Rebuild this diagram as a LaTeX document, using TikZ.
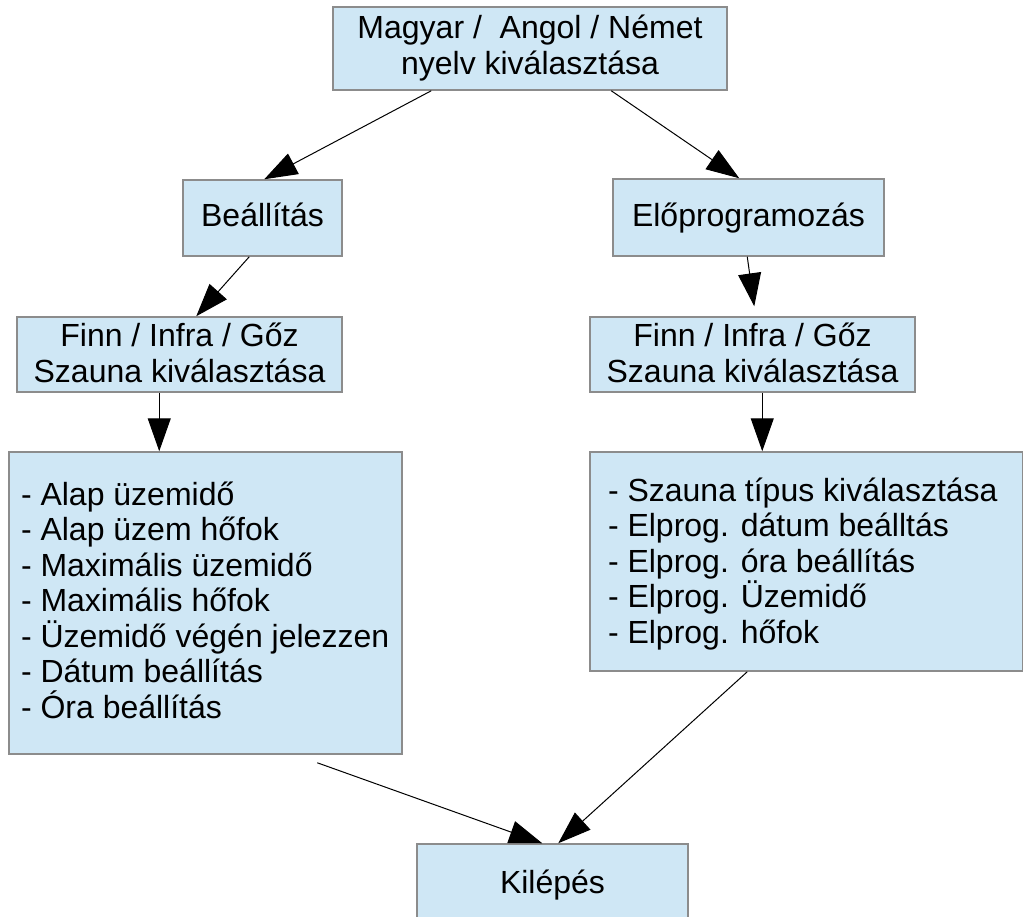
\documentclass[tikz,border=0pt]{standalone}
\usepackage{fontspec}
\setmainfont{Liberation Sans}
\usetikzlibrary{arrows.meta}

\definecolor{boxfill}{HTML}{CFE7F5}
\definecolor{boxline}{HTML}{8C8C8C}

% stacked text rows with a fixed line pitch
\newcommand\stackbox[2]{\vbox{\hsize=#1\baselineskip=35.5pt\lineskiplimit=-100pt\lineskip=0pt #2}}
\newcommand\midrow[1]{\hbox to \hsize{\hss#1\hss}}
\newcommand\leftrow[1]{\hbox to \hsize{#1\hss}}

\tikzset{
  box/.style={draw=boxline, fill=boxfill, line width=1.5pt, inner sep=0pt,
    font=\fontsize{32}{35.5}\selectfont, text=black, text depth=0pt},
  arr/.style={draw=black, line width=1pt, -{Triangle[length=33pt,width=23pt]}}
}

\begin{document}
\begin{tikzpicture}[x=1pt, y=-1pt]
\useasboundingbox (0,0) rectangle (1024,916);
\clip (0,0) rectangle (1024,916);

\node[box, minimum width=394pt, minimum height=83pt, text height=51pt] (top) at (530,48.5)
  {\stackbox{0pt}{\midrow{Magyar /\ \ Angol / Német}\midrow{nyelv kiválasztása}}};

\node[box, minimum width=159pt, minimum height=76pt, text height=17.3pt] (bea) at (262.5,218)
  {\stackbox{0pt}{\midrow{Beállítás}}};
\node[box, minimum width=271pt, minimum height=77pt, text height=18.4pt] (elo) at (748.5,217.5)
  {\stackbox{0pt}{\midrow{Előprogramozás}}};

\node[box, minimum width=325pt, minimum height=75pt, text height=55pt] (finnL) at (179.5,354.5)
  {\stackbox{0pt}{\midrow{Finn / Infra / Gőz}\midrow{Szauna kiválasztása}}};
\node[box, minimum width=325pt, minimum height=75pt, text height=55pt] (finnR) at (752.5,354.5)
  {\stackbox{0pt}{\midrow{Finn / Infra / Gőz}\midrow{Szauna kiválasztása}}};

\node[box, minimum width=393pt, minimum height=302pt, text height=230pt] (listL) at (205.5,603)
  {\stackbox{369pt}{%
    \leftrow{- Alap üzemidő}
    \leftrow{- Alap üzem hőfok}
    \leftrow{- Maximális üzemidő}
    \leftrow{- Maximális hőfok}
    \leftrow{- Üzemidő végén jelezzen}
    \leftrow{- Dátum beállítás}
    \leftrow{- Óra beállítás}}};
\node[box, minimum width=432.5pt, minimum height=219pt, text height=163.6pt] (listR) at (806.25,561.5)
  {\stackbox{396.5pt}{%
    \leftrow{- Szauna típus kiválasztása}
    \leftrow{- Elprog. dátum beálltás}
    \leftrow{- Elprog. óra beállítás}
    \leftrow{- Elprog. Üzemidő}
    \leftrow{- Elprog. hőfok}}};

\node[box, minimum width=271pt, minimum height=76pt, text height=22pt] (kil) at (552.5,882)
  {\stackbox{0pt}{\midrow{Kilépés}}};

% connectors
\draw[arr] ([xshift=99pt]top.south west) -- ([xshift=82pt]bea.north west);
\draw[arr] ([xshift=279pt]top.south west) -- ([xshift=127pt]elo.north west);
\draw[arr] ([xshift=67pt]bea.south west) -- ([xshift=180pt]finnL.north west);
\draw[arr] ([xshift=143pt]finnL.south west) -- ([xshift=151pt]listL.north west);
\draw[arr] ([xshift=135pt]elo.south west) -- ([xshift=165pt,yshift=10pt]finnR.north west);
\draw[arr] ([xshift=173pt]finnR.south west) -- ([xshift=173pt]listR.north west);
\draw[arr] ([xshift=309pt,yshift=-8pt]listL.south west) -- ([xshift=126pt]kil.north west);
\draw[arr] ([xshift=158pt]listR.south west) -- ([xshift=142pt]kil.north west);
\end{tikzpicture}
\end{document}
